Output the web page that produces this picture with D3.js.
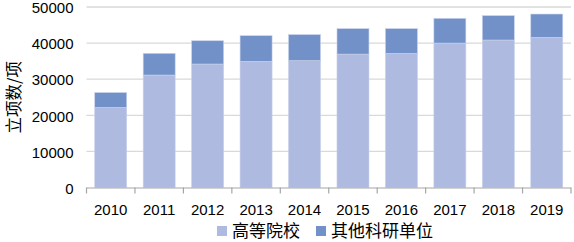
<!DOCTYPE html>
<html>
<head>
<meta charset="utf-8">
<script src="https://cdn.jsdelivr.net/npm/d3@7"></script>
<style>
  body { margin: 0; background: #fff; }
  svg text { font-family: "Liberation Sans", Arial, "Noto Sans CJK SC", sans-serif; fill: #000; }
</style>
</head>
<body>
<svg id="chart" width="574" height="242"></svg>
<script>
// values
var years = ["2010", "2011", "2012", "2013", "2014", "2015", "2016", "2017", "2018", "2019"];
var universities = [22200, 31150, 34200, 34950, 35150, 36950, 37150, 40000, 40850, 41600];
var otherInstitutes = [4100, 6000, 6450, 7100, 7200, 7050, 6850, 6850, 6750, 6450];
var yTicks = [0, 10000, 20000, 30000, 40000, 50000];
var seriesNames = ["高等院校", "其他科研单位"];
var colors = ["#aebadf", "#7191c8"];

var svg = d3.select("#chart");
var margin = { left: 86.5, right: 3, top: 7, bottom: 54.5 };
var width = 574 - margin.left - margin.right;
var height = 242 - margin.top - margin.bottom;

var g = svg.append("g").attr("transform", "translate(" + margin.left + "," + margin.top + ")");

var x = d3.scaleBand().domain(years).range([0, width]).paddingInner(0.34).paddingOuter(0.17);
var y = d3.scaleLinear().domain([0, 50000]).range([height, 0]);

// gridlines
g.selectAll(".grid").data(yTicks.slice(1)).enter().append("line")
  .attr("x1", 0).attr("x2", width)
  .attr("y1", function(d) { return y(d) }).attr("y2", function(d) { return y(d) })
  .attr("stroke", "#d9d9d9").attr("stroke-width", 1.3);

// stacked bars
var rows = years.map(function(yr, i) { return { year: yr, a: universities[i], b: otherInstitutes[i] } });
var stack = d3.stack().keys(["a", "b"])(rows);

g.selectAll(".layer").data(stack).enter().append("g")
  .attr("fill", function(d, i) { return colors[i] })
  .selectAll("rect").data(function(d) { return d }).enter().append("rect")
  .attr("x", function(d) { return x(d.data.year) })
  .attr("width", x.bandwidth())
  .attr("y", function(d) { return y(d[1]) })
  .attr("height", function(d) { return y(d[0]) - y(d[1]) })
  .attr("stroke", "#c9d1ea").attr("stroke-width", 0.6);

// y axis labels
g.selectAll(".ylab").data(yTicks).enter().append("text")
  .attr("x", -13).attr("y", function(d) { return y(d) + 1 })
  .attr("dy", "0.35em").attr("text-anchor", "end")
  .style("font-size", "15px")
  .text(function(d) { return d });

// x axis line + ticks between categories
var step = x.step();
g.append("line").attr("x1", 0).attr("x2", width).attr("y1", height + 0.5).attr("y2", height + 0.5)
  .attr("stroke", "#a6a6a6").attr("stroke-width", 1.2);
g.selectAll(".xtick").data(d3.range(years.length + 1)).enter().append("line")
  .attr("x1", function(i) { return i * step }).attr("x2", function(i) { return i * step })
  .attr("y1", height).attr("y2", height + 6)
  .attr("stroke", "#a6a6a6").attr("stroke-width", 1.2);

g.selectAll(".xlab").data(years).enter().append("text")
  .attr("x", function(d) { return x(d) + x.bandwidth() / 2 })
  .attr("y", height + 27)
  .attr("text-anchor", "middle")
  .style("font-size", "15px")
  .text(function(d) { return d });

// y axis title
svg.append("text")
  .attr("transform", "translate(20," + (margin.top + height / 2) + ") rotate(-90)")
  .attr("text-anchor", "middle")
  .style("font-size", "16.5px")
  .style("font-family", "'Noto Sans CJK SC', sans-serif")
  .text("立项数/项");

// legend
var legend = svg.append("g").attr("transform", "translate(217,231)");
var legX = [0, 99];
seriesNames.forEach(function(name, i) {
  legend.append("rect").attr("x", legX[i]).attr("y", -5).attr("width", 10).attr("height", 10).attr("fill", colors[i]);
  legend.append("text").attr("x", legX[i] + 15).attr("y", 0).attr("dy", "0.36em")
    .style("font-size", "17px")
    .style("font-family", "'Noto Sans CJK SC', sans-serif")
    .text(name);
});
</script>
</body>
</html>
